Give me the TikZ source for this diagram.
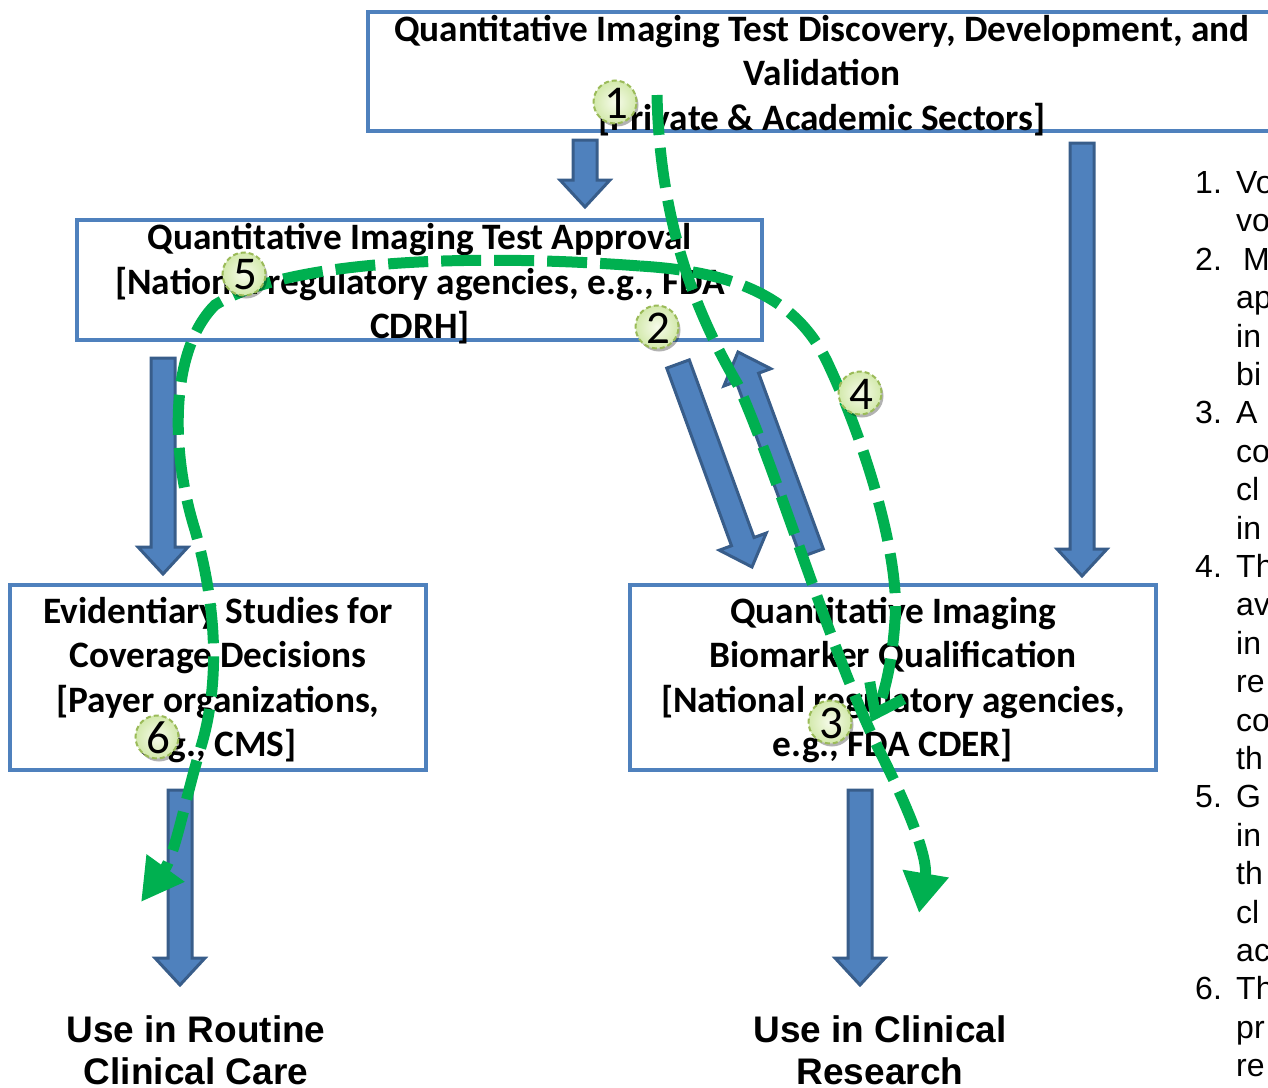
\documentclass[tikz,border=0pt]{standalone}
\usepackage{fontspec}
\newfontfamily\calfont{Carlito}
\newfontfamily\arialfont{Liberation Sans}
\usetikzlibrary{calc,arrows.meta,shadows}
\definecolor{boxblue}{HTML}{4F81BD}
\definecolor{arrdark}{HTML}{385D8A}
\definecolor{pathgreen}{HTML}{00B050}
\definecolor{circedge}{HTML}{9BBB59}
\definecolor{circin}{HTML}{F6FBEA}
\definecolor{circout}{HTML}{D3E9AC}
\tikzset{
  stageframe/.style={draw=boxblue, line width=3.5pt, fill=white, inner sep=0pt},
  stagetext/.style={inner sep=0pt, align=center,
    font=\calfont\bfseries\fontsize{37.3}{44.5}\selectfont},
  blockarrow/.style={fill=boxblue, draw=arrdark, line width=3pt, line join=miter},
  gpath/.style={draw=pathgreen, line width=11pt, dash pattern=on 40pt off 13pt},
  stepmark/.style={circle, minimum size=43pt, inner sep=0pt, draw=circedge, line width=2pt,
    dash pattern=on 5pt off 3pt, inner color=circin, outer color=circout,
    drop shadow={shadow xshift=2pt, shadow yshift=-3pt, opacity=0.3, fill=black}},
  stepnum/.style={inner sep=0pt, font=\calfont\fontsize{47}{47}\selectfont},
  uselabel/.style={anchor=base, inner sep=0pt, font=\arialfont\bfseries\fontsize{37}{42}\selectfont},
  listtxt/.style={anchor=base west, inner sep=0pt, font=\arialfont\fontsize{32}{38.4}\selectfont},
}
\newcommand\blockarr[3]{%
  \path (#2) coordinate (#1-s) (#3) coordinate (#1-t);
  \coordinate (#1-h) at ($(#1-t)!27pt!(#1-s)$);
  \filldraw[blockarrow] ($(#1-s)!12pt!90:(#1-t)$) -- ($(#1-h)!12pt!90:(#1-t)$)
    -- ($(#1-h)!25pt!90:(#1-t)$) -- (#1-t) -- ($(#1-h)!25pt!-90:(#1-t)$)
    -- ($(#1-h)!12pt!-90:(#1-t)$) -- ($(#1-s)!12pt!-90:(#1-t)$) -- cycle;
}
\begin{document}
\begin{tikzpicture}[x=1pt,y=-1pt]
\useasboundingbox (0,0) rectangle (1268,1087);
\begin{scope}
\clip (0,0) rectangle (1268,1087);
% boxes
\node[stageframe, minimum width=908pt, minimum height=119pt] (disc) at (822,71.5) {};
\node[stagetext] (disc-t) at (822,75.5)
  {Quantitative Imaging Test Discovery, Development, and\\Validation\\{[}Private \& Academic Sectors]};
\node[stageframe, minimum width=685pt, minimum height=120pt] (appr) at (419.5,280) {};
\node[stagetext] (appr-t) at (420,284)
  {Quantitative Imaging Test Approval\\{[}National regulatory agencies, e.g., FDA\\CDRH]};
\node[stageframe, minimum width=416pt, minimum height=185pt] (evid) at (218,677.5) {};
\node[stagetext] (evid-t) at (218,680)
  {Evidentiary Studies for\\Coverage Decisions\\{[}Payer organizations,\\e.g., CMS]};
\node[stageframe, minimum width=526pt, minimum height=185pt] (qual) at (893,677.5) {};
\node[stagetext] (qual-t) at (893,680)
  {Quantitative Imaging\\Biomarker Qualification\\{[}National regulatory agencies,\\e.g., FDA CDER]};
% bottom labels
\node[uselabel] (rout1) at (196,1042) {Use in Routine};
\node[uselabel] (rout2) at (196,1084) {Clinical Care};
\node[uselabel] (res1) at (880,1042) {Use in Clinical};
\node[uselabel] (res2) at (880,1084) {Research};
% block arrows
\blockarr{ba}{585,140}{585,207}
\blockarr{bb}{1082,143}{1082,576}
\blockarr{bc}{163,358}{163,574}
\blockarr{bd}{678,364}{752,567}
\blockarr{be}{812,553}{738,352}
\blockarr{bf}{180,790}{180,985}
\blockarr{bg}{860,790}{860,985}
% green dashed paths
\coordinate (a0) at (657,95);
\coordinate (a1) at (738,385);
\coordinate (a2) at (880,752);
\coordinate (a3) at (919,913);
\draw[gpath, -{Triangle[length=40pt,width=44pt]}] (a0) .. controls (660,230) and (700,320) .. (a1)
  .. controls (780,480) and (830,650) .. (a2) .. controls (912,815) and (928,860) .. (a3);
\coordinate (p0) at (640,266);
\coordinate (p4a) at (830,368);
\coordinate (p4b) at (895,620);
\coordinate (p4e) at (871,722);
\draw[gpath, -{Straight Barb[length=26pt,width=38pt]}] (p0) .. controls (740,272) and (800,300) .. (p4a)
  .. controls (868,450) and (900,560) .. (p4b) .. controls (892,668) and (882,700) .. (p4e);
\coordinate (p5a) at (215,305);
\coordinate (p5b) at (195,530);
\coordinate (p5c) at (200,750);
\coordinate (p5e) at (141,902);
\draw[gpath, -{Triangle[length=42pt,width=44pt]}] (p0) .. controls (480,254) and (290,258) .. (p5a)
  .. controls (170,350) and (170,450) .. (p5b) .. controls (215,600) and (222,680) .. (p5c)
  .. controls (185,800) and (175,855) .. (p5e);
% step markers
\foreach \i/\x/\y in {1/615/102, 2/657/327, 3/830/722, 4/860/393, 5/244/274, 6/157/737} {
  \node[stepmark] (s\i) at (\x,\y) {};
  \node[stepnum] (s\i-n) at ($(s\i)+(1,1)$) {\i};
}
% list at right (cut off)
\foreach \n/\k in {1/0,2/2,3/6,4/10,5/16,6/21}
  \node[listtxt] (num\n) at (1195,{193.5+38.4*\k}) {\n.};
\foreach \t [count=\k from 0] in {Vo,vo,M,ap,in,bi,A,co,cl,in,Th,av,in,re,co,th,G,in,th,cl,ac,Th,pr,re}
  \node[listtxt] (ln\k) at ({\k==2 ? 1243 : 1236},{193.5+38.4*\k}) {\t};
\end{scope}
\end{tikzpicture}
\end{document}
